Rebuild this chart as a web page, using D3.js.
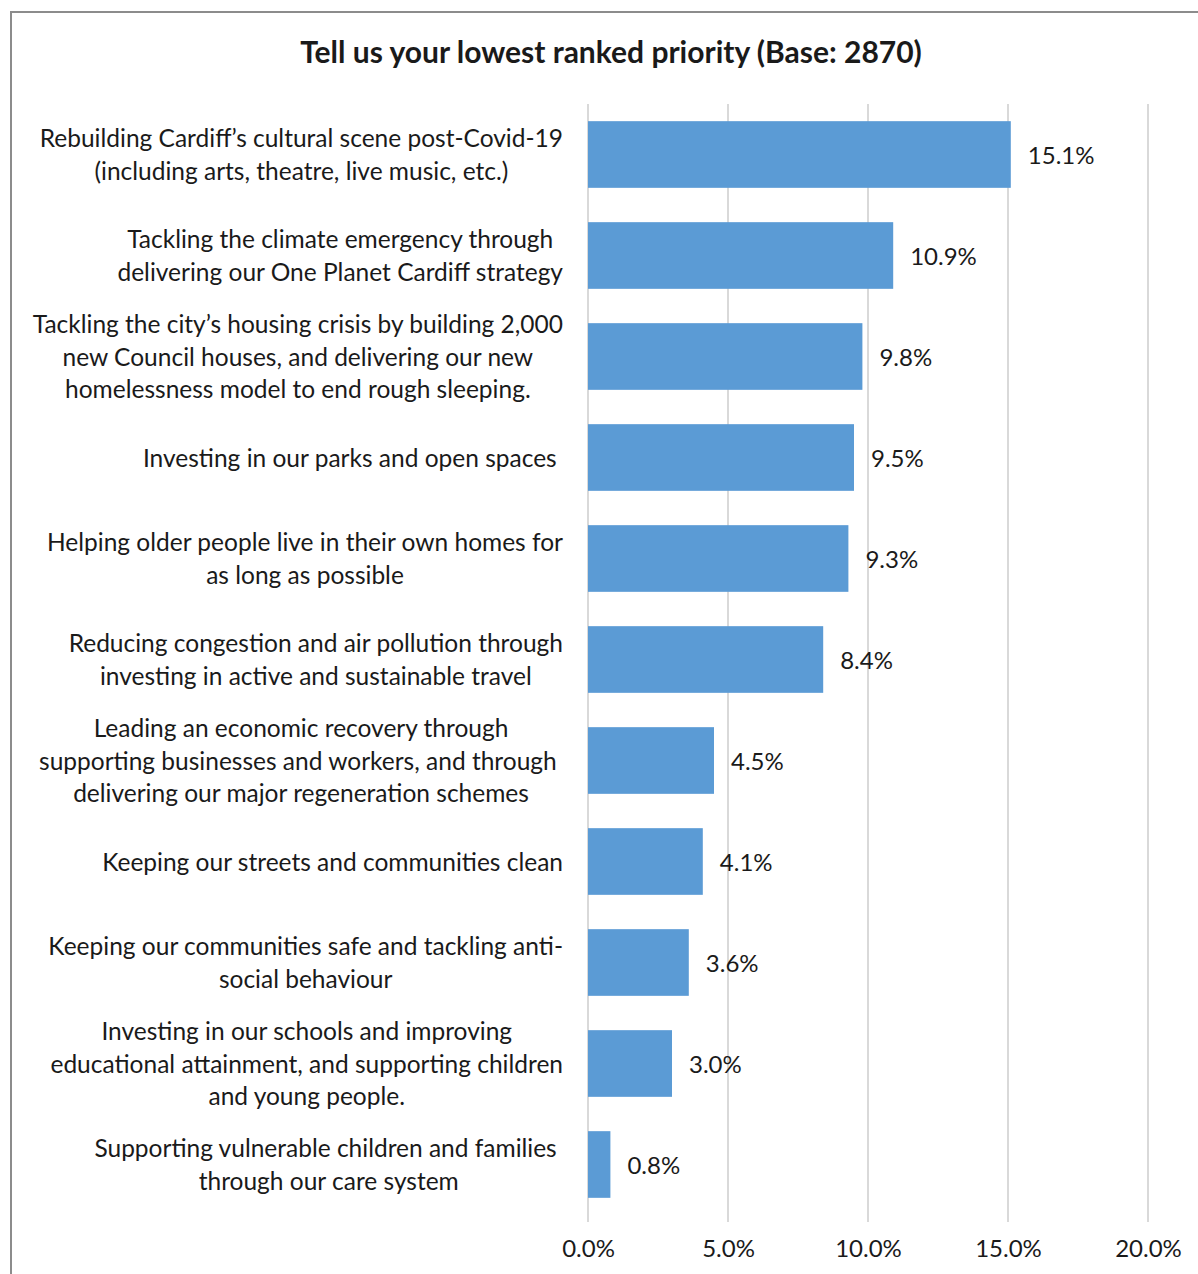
<!DOCTYPE html>
<html><head><meta charset="utf-8">
<script src="https://cdn.jsdelivr.net/npm/d3@7"></script>
<style>
html,body{margin:0;padding:0;background:#fff;}
svg{display:block;}
text{font-family:Lato,"Open Sans",sans-serif;fill:#1a1a1a;white-space:pre;}
</style></head><body>
<svg id="chart" width="1198" height="1274"></svg>
<script>
const title = "Tell us your lowest ranked priority (Base: 2870)";
const categories = [
  ["Rebuilding Cardiff\u2019s cultural scene post-Covid-19", "(including arts, theatre, live music, etc.)"],
  ["Tackling the climate emergency through", "delivering our One Planet Cardiff strategy"],
  ["Tackling the city\u2019s housing crisis by building 2,000", "new Council houses, and delivering our new", "homelessness model to end rough sleeping."],
  ["Investing in our parks and open spaces "],
  ["Helping older people live in their own homes for", "as long as possible"],
  ["Reducing congestion and air pollution through", "investing in active and sustainable travel"],
  ["Leading an economic recovery through", "supporting businesses and workers, and through ", "delivering our major regeneration schemes"],
  ["Keeping our streets and communities clean"],
  ["Keeping our communities safe and tackling anti-", "social behaviour"],
  ["Investing in our schools and improving", "educational attainment, and supporting children", "and young people."],
  ["Supporting vulnerable children and families ", "through our care system"]
];
const values = [15.1, 10.9, 9.8, 9.5, 9.3, 8.4, 4.5, 4.1, 3.6, 3.0, 0.8];
const tickValues = [0, 5, 10, 15, 20];

const svg = d3.select("#chart");
// outer border
svg.append("rect").attr("x", 11).attr("y", 12).attr("width", 1300).attr("height", 1400)
  .attr("fill", "none").attr("stroke", "#8c8c8c").attr("stroke-width", 2);

svg.append("text").attr("x", 611).attr("y", 63).attr("text-anchor", "middle")
  .style("font-weight", "bold").style("font-size", "30px").text(title);

const x = d3.scaleLinear().domain([0, 20]).range([588, 1148]);
const y = d3.scaleBand().domain(d3.range(categories.length)).range([104, 1215]).paddingInner(0.34).paddingOuter(0.17);

// gridlines
svg.append("g").selectAll("line").data(tickValues).join("line")
  .attr("x1", d => x(d)).attr("x2", d => x(d)).attr("y1", 104).attr("y2", 1222)
  .attr("stroke", "#d9d9d9").attr("stroke-width", 2);

// bars
svg.append("g").selectAll("rect").data(values).join("rect")
  .attr("x", x(0)).attr("y", (d, i) => y(i)).attr("width", d => x(d) - x(0)).attr("height", y.bandwidth())
  .attr("fill", "#5b9bd5");

// value labels
svg.append("g").selectAll("text").data(values).join("text")
  .attr("x", d => x(d) + 17).attr("y", (d, i) => y(i) + y.bandwidth() / 2 + 9)
  .style("font-size", "24px").text(d => d.toFixed(1) + "%");

// x axis tick labels
const xAxis = d3.axisBottom(x).tickValues(tickValues).tickFormat(d => d.toFixed(1) + "%").tickSize(0).tickPadding(0);
const ax = svg.append("g").attr("transform", "translate(0,1239)").call(xAxis);
ax.select(".domain").remove();
ax.selectAll("text").style("font-size", "24px").style("font-family", "Lato").attr("fill", "#1a1a1a").attr("dy", "0.75em");

// category labels
const lineH = 32.5;
const rightEdge = 563;
const lg = svg.append("g");
categories.forEach((lines, i) => {
  const cy = y(i) + y.bandwidth() / 2;
  const g = lg.append("g");
  const texts = lines.map((l, j) => g.append("text")
    .attr("y", cy + (j - (lines.length - 1) / 2) * lineH + 9)
    .style("font-size", "24.5px").text(l));
  const widths = texts.map(t => t.node().getComputedTextLength());
  const maxW = d3.max(widths);
  const cx = rightEdge - maxW / 2;
  texts.forEach(t => t.attr("x", cx).attr("text-anchor", "middle"));
});
</script>
</body></html>
